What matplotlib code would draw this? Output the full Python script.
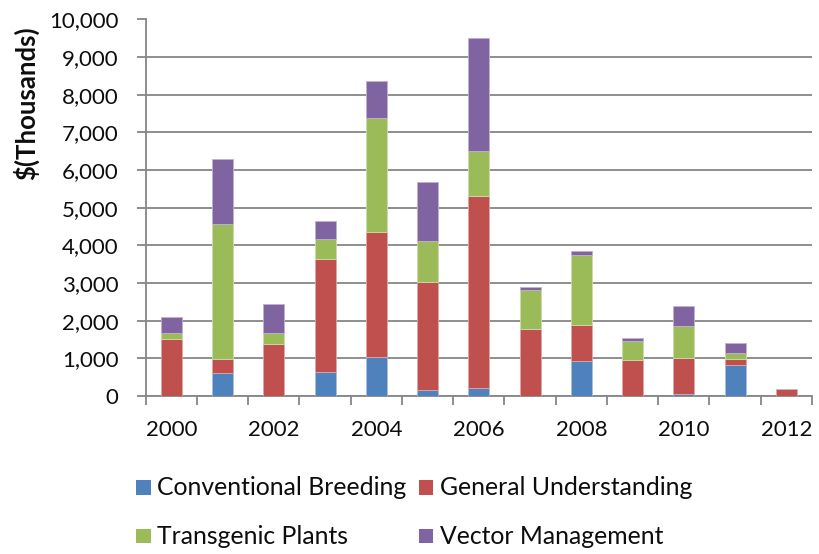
import matplotlib
matplotlib.use("Agg")
import matplotlib.pyplot as plt
from matplotlib.patches import Rectangle
import numpy as np

plt.rcParams['font.family'] = ['Lato', 'DejaVu Sans']

years = [2000, 2001, 2002, 2003, 2004, 2005, 2006, 2007, 2008, 2009, 2010, 2011, 2012]
conventional_breeding = [0, 610, 0, 630, 1030, 150, 200, 0, 930, 0, 45, 820, 0]
general_understanding = [1520, 365, 1370, 3020, 3315, 2880, 5110, 1785, 955, 945, 970, 150, 185]
transgenic_plants = [160, 3590, 295, 530, 3050, 1100, 1210, 1025, 1855, 515, 840, 185, 0]
vector_management = [410, 1730, 775, 480, 960, 1555, 2980, 90, 105, 80, 530, 245, 0]

series_names = ["Conventional Breeding", "General Understanding",
                "Transgenic Plants", "Vector Management"]
series_values = [conventional_breeding, general_understanding,
                 transgenic_plants, vector_management]
colors = ["#4F81BD", "#C0504D", "#9BBB59", "#8064A2"]
edge_colors = ["#a7bfe0", "#e0a6a5", "#cddcac", "#c0b1d1"]

y_ticks = list(range(0, 10001, 1000))
x_labels = ["2000", "2002", "2004", "2006", "2008", "2010", "2012"]

W, H = 820, 554
fig = plt.figure(figsize=(W / 100, H / 100), dpi=100)
ax = fig.add_axes([145.7 / W, 1 - 396 / H, (812 - 145.7) / W, (396 - 19.5) / H])

x = np.arange(len(years))
bottom = np.zeros(len(years))
for vals, c, ec in zip(series_values, colors, edge_colors):
    v = np.array(vals, dtype=float)
    ax.bar(x, v, width=0.41, bottom=bottom, color=c, edgecolor=ec, linewidth=0.6, zorder=3)
    bottom += v

grid_c = "#868686"
text_c = "#0d0d0d"
ax.set_ylim(0, 10000)
ax.set_xlim(-0.5, len(years) - 0.5)
ax.set_yticks(y_ticks)
ax.set_yticklabels([f"{t:,}" for t in y_ticks], fontsize=16, color=text_c)
ax.yaxis.grid(True, color=grid_c, linewidth=1.3, zorder=0)
ax.set_axisbelow(True)

# category boundary ticks below the x axis, year labels every other category
ax.set_xticks(np.arange(len(years) + 1) - 0.5)
ax.set_xticklabels([])
ax.tick_params(axis="x", length=6.5, width=1.3, color=grid_c, direction="out")
ax.tick_params(axis="y", length=6.5, width=1.3, color=grid_c, direction="out", pad=13)
label_y = (396 - 430) / (396 - 19.5)
for lbl in x_labels:
    i = years.index(int(lbl))
    ax.text(i, label_y, lbl, ha="center", va="center", fontsize=16, color=text_c,
            transform=ax.get_xaxis_transform())

for side in ["top", "right"]:
    ax.spines[side].set_visible(False)
for side in ["left", "bottom"]:
    ax.spines[side].set_color(grid_c)
    ax.spines[side].set_linewidth(1.3)

fig.text(26 / W, 1 - 103 / H, "$(Thousands)", rotation=90, ha="center", va="center",
         fontsize=18.5, fontweight="bold", color=text_c)

# legend laid out in two rows, two columns
legend_pos = [(136, 487.5), (419, 487.5), (136, 536), (419, 536)]
for (px, py), name, c in zip(legend_pos, series_names, colors):
    fig.add_artist(Rectangle((px / W, 1 - (py + 7) / H), 14.5 / W, 14.5 / H,
                             transform=fig.transFigure, facecolor=c, edgecolor="none"))
    fig.text((px + 21) / W, 1 - py / H, name, ha="left", va="center",
             fontsize=17.8, color=text_c)

fig.savefig("out.png", dpi=100)
